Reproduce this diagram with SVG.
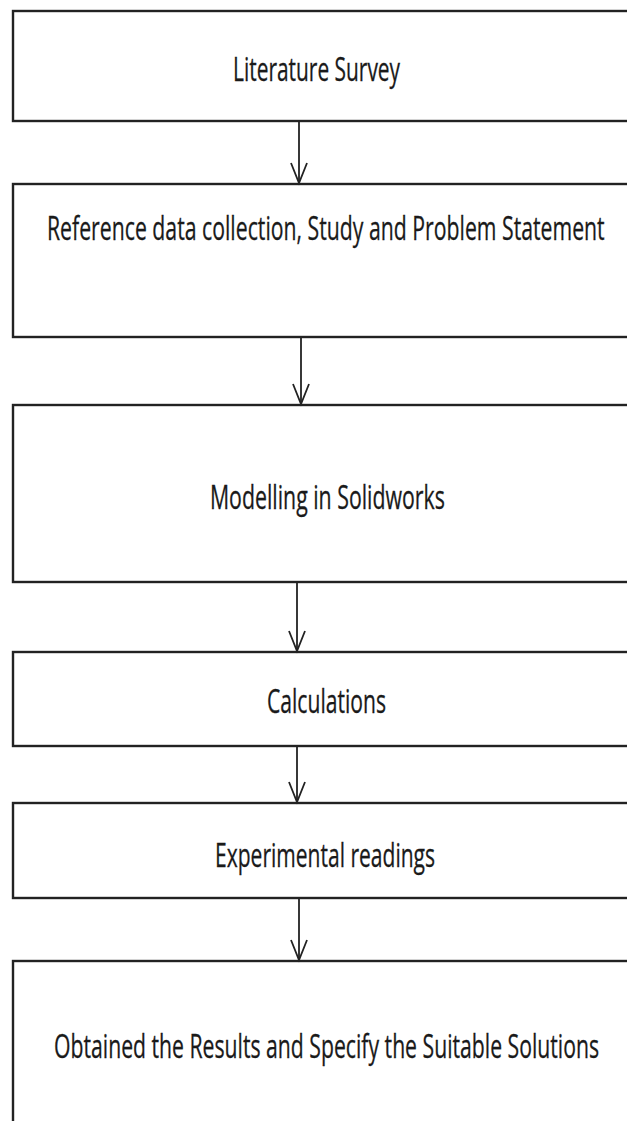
<svg xmlns="http://www.w3.org/2000/svg" width="627" height="1121" viewBox="0 0 627 1121">
<defs>
<marker id="arr" markerUnits="userSpaceOnUse" markerWidth="24" markerHeight="20" refX="21" refY="10" orient="auto" viewBox="0 0 24 20">
<path d="M1,2 L21,10 L1,18" fill="none" stroke="#222" stroke-width="1.8"/>
</marker>
</defs>
<style>
.box{fill:#fff;stroke:#222;stroke-width:2.4}
.lbl{font-family:"Open Sans","Liberation Sans",sans-serif;font-size:32px;fill:#1a1a1a;stroke:#1a1a1a;stroke-width:0.3}
.con{stroke:#222;stroke-width:1.8;fill:none}
</style>
<rect width="627" height="1121" fill="#fff"/>
<g id="n1"><rect class="box" x="13" y="11" width="630" height="110"/><text class="lbl" transform="scale(0.65,1)" x="358.5" y="81" textLength="257" lengthAdjust="spacingAndGlyphs">Literature Survey</text></g>
<g id="n2"><rect class="box" x="13" y="184" width="630" height="153"/><text class="lbl" transform="scale(0.65,1)" x="72.3" y="240" textLength="858" lengthAdjust="spacingAndGlyphs">Reference data collection, Study and Problem Statement</text></g>
<g id="n3"><rect class="box" x="13" y="405" width="630" height="177"/><text class="lbl" transform="scale(0.65,1)" x="323" y="509" textLength="361.5" lengthAdjust="spacingAndGlyphs">Modelling in Solidworks</text></g>
<g id="n4"><rect class="box" x="13" y="652" width="630" height="94"/><text class="lbl" transform="scale(0.65,1)" x="410.8" y="713" textLength="183" lengthAdjust="spacingAndGlyphs">Calculations</text></g>
<g id="n5"><rect class="box" x="13" y="803" width="630" height="95"/><text class="lbl" transform="scale(0.65,1)" x="330.8" y="867" textLength="338.5" lengthAdjust="spacingAndGlyphs">Experimental readings</text></g>
<g id="n6"><rect class="box" x="13" y="961" width="630" height="180"/><text class="lbl" transform="scale(0.65,1)" x="83.1" y="1058" textLength="838.5" lengthAdjust="spacingAndGlyphs">Obtained the Results and Specify the Suitable Solutions</text></g>
<g id="connectors">
<line class="con" x1="299" y1="122" x2="299" y2="183" marker-end="url(#arr)"/>
<line class="con" x1="301" y1="338" x2="301" y2="404" marker-end="url(#arr)"/>
<line class="con" x1="297" y1="583" x2="297" y2="651" marker-end="url(#arr)"/>
<line class="con" x1="297" y1="747" x2="297" y2="802" marker-end="url(#arr)"/>
<line class="con" x1="299" y1="899" x2="299" y2="960" marker-end="url(#arr)"/>
</g>
</svg>
